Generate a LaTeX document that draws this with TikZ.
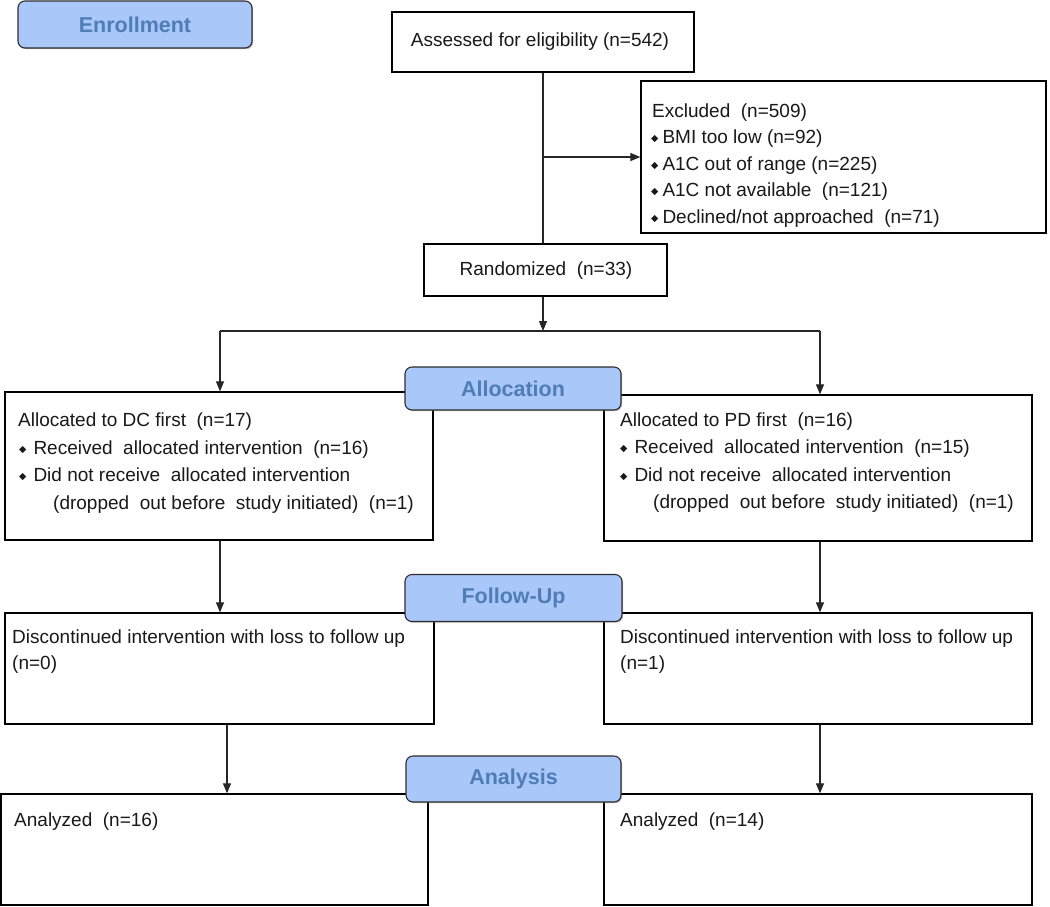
\documentclass[tikz,border=0pt]{standalone}
\usepackage{fontspec}
\setmainfont{Liberation Sans}
\newfontfamily\symf{DejaVu Sans}
\usetikzlibrary{arrows.meta,shadows}
\definecolor{labfill}{HTML}{A9C7F8}
\definecolor{labtext}{HTML}{4F7DB8}
\definecolor{labdraw}{HTML}{2E2E2E}
\newcommand{\dia}{\raisebox{1.5pt}{\symf\fontsize{9.5}{9.5}\selectfont ◆}}
\tikzset{
  box/.style={draw=black, line width=1.3pt, inner sep=0pt, fill=white},
  lab/.style={draw=labdraw, line width=1.1pt, fill=labfill, rounded corners=7pt,
    text=labtext, font=\fontsize{21.5}{24}\selectfont\bfseries, inner sep=0pt,
    drop shadow={shadow xshift=1.2pt, shadow yshift=-1.2pt, opacity=0.45, fill=black!60}},
  txt/.style={anchor=base west, inner sep=0pt, font=\fontsize{19}{22}\selectfont, text=black!90},
  ctxt/.style={anchor=base, inner sep=0pt, font=\fontsize{19}{22}\selectfont, text=black!90},
  line/.style={draw=black!85, line width=1.2pt},
  arr/.style={line, -{Triangle[length=10pt,width=8pt]}}
}
\begin{document}
\begin{tikzpicture}[x=1pt,y=-1pt]
\useasboundingbox (0,0) rectangle (1050,906);
\fill[white] (0,0) rectangle (1050,906);

% boxes
\node[box, minimum width=302pt, minimum height=60pt] (assess) at (543,42) {};
\node[box, minimum width=405pt, minimum height=152pt] (excl) at (843.5,157) {};
\node[box, minimum width=243pt, minimum height=52pt] (rand) at (545.5,270) {};
\node[box, minimum width=428pt, minimum height=148pt] (a1) at (219,466) {};
\node[box, minimum width=428pt, minimum height=146pt] (a2) at (818,468) {};
\node[box, minimum width=429pt, minimum height=111pt] (f1) at (219.5,668.5) {};
\node[box, minimum width=428pt, minimum height=111pt] (f2) at (818,668.5) {};
\node[box, minimum width=427pt, minimum height=111pt] (n1) at (214.5,849.5) {};
\node[box, minimum width=428pt, minimum height=111pt] (n2) at (818,849.5) {};

% texts
\node[ctxt] (tassess) at (540,46) {Assessed for eligibility (n=542)};
\node[txt] (tex0) at (652,117) {Excluded\ \ (n=509)};
\node[txt] (tex1) at (651,143) {\dia\hspace{4pt}BMI too low (n=92)};
\node[txt] (tex2) at (651,170) {\dia\hspace{4pt}A1C out of range (n=225)};
\node[txt] (tex3) at (651,196) {\dia\hspace{4pt}A1C not available\ \ (n=121)};
\node[txt] (tex4) at (651,223) {\dia\hspace{4pt}Declined/not approached\ \ (n=71)};
\node[ctxt] (trand) at (546,275) {Randomized\ \ (n=33)};

\node[txt] (ta10) at (18,426) {Allocated to DC first\ \ (n=17)};
\node[txt] (ta11) at (19,454) {\dia\hspace{7pt}Received\ \ allocated intervention\ \ (n=16)};
\node[txt] (ta12) at (19,481) {\dia\hspace{7pt}Did not receive\ \ allocated intervention};
\node[txt] (ta13) at (53,509) {(dropped\ \ out before\ \ study initiated)\ \ (n=1)};

\node[txt] (ta20) at (620,426) {Allocated to PD first\ \ (n=16)};
\node[txt] (ta21) at (620,453) {\dia\hspace{7pt}Received\ \ allocated intervention\ \ (n=15)};
\node[txt] (ta22) at (620,481) {\dia\hspace{7pt}Did not receive\ \ allocated intervention};
\node[txt] (ta23) at (653,508) {(dropped\ \ out before\ \ study initiated)\ \ (n=1)};

\node[txt] (tf10) at (12,643) {Discontinued intervention with loss to follow up};
\node[txt] (tf11) at (12,669) {(n=0)};
\node[txt] (tf20) at (620,643) {Discontinued intervention with loss to follow up};
\node[txt] (tf21) at (620,669) {(n=1)};

\node[txt] (tn1) at (14,826) {Analyzed\ \ (n=16)};
\node[txt] (tn2) at (620,826) {Analyzed\ \ (n=14)};

% connectors
\coordinate (sL) at (220,331);
\coordinate (sR) at (820,331);
\coordinate (xL) at (227,724);
\draw[line] (assess.south) -- (assess.south |- rand.north);
\draw[arr] (assess.south |- excl.west) -- (excl.west);
\draw[line] (sL) -- (sR);
\draw[arr] (assess.south |- rand.south) -- (assess.south |- sL);
\draw[arr] (sL) -- (sL |- a1.north);
\draw[arr] (sR) -- (sR |- a2.north);
\draw[arr] (sL |- a1.south) -- (sL |- f1.north);
\draw[arr] (sR |- a2.south) -- (sR |- f2.north);
\draw[arr] (xL |- f1.south) -- (xL |- n1.north);
\draw[arr] (sR |- f2.south) -- (sR |- n2.north);

% stage labels
\node[lab, minimum width=234pt, minimum height=47pt] (enr) at (135,24.5) {Enrollment};
\node[lab, minimum width=216pt, minimum height=43pt] (alloc) at (513,388.5) {Allocation};
\node[lab, minimum width=217pt, minimum height=47pt] (fu) at (513.5,598) {Follow-Up};
\node[lab, minimum width=215pt, minimum height=46pt] (ana) at (513.5,779) {Analysis};
\end{tikzpicture}
\end{document}
